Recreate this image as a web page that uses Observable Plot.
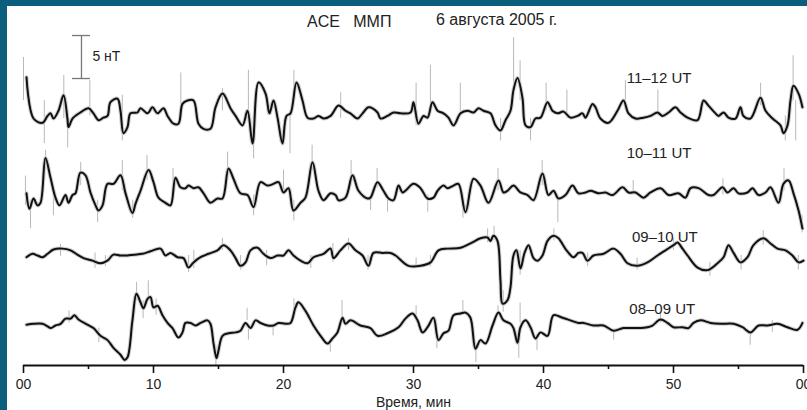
<!DOCTYPE html>
<html>
<head>
<meta charset="utf-8">
<script src="https://cdn.jsdelivr.net/npm/d3@7"></script>
<script src="https://cdn.jsdelivr.net/npm/@observablehq/plot@0.6"></script>
<style>
  html, body { margin: 0; padding: 0; }
  body { width: 807px; height: 410px; background: #0b5f7d; position: relative; overflow: hidden; font-family: "Liberation Sans", Arial, sans-serif; }
  #frame { position: absolute; left: 7px; top: 6px; width: 800px; height: 404px; background: #fff; }
  .ttl { position: absolute; font-size: 16px; line-height: 18px; color: #222; white-space: pre; }
  #chart svg { overflow: visible; }
</style>
</head>
<body>
<div id="frame">
  <div class="ttl" style="left:300px; top:7px;">ACE   ММП</div>
  <div class="ttl" style="left:429px; top:5px;">6 августа 2005 г.</div>
  <div id="chart"></div>
</div>
<script>
// ---- data: [minute, nT deviation] ----
const seriesNames = ["11–12 UT", "10–11 UT", "09–10 UT", "08–09 UT"];
const baselines = [28.72, 20.12, 12.79, 4.65]; // nT stacking offsets

const s1112 = [[0.23,4.8],[0.77,0],[1.46,-0.5],[1.85,0.3],[2.08,0.6],[2.31,0],[2.69,0.9],[3.08,2.7],[3.38,0],[3.46,-1.0],[3.77,0],[4.38,0.7],[5.0,1.2],[5.38,0.6],[5.77,-0.2],[6.15,0.1],[6.46,0.3],[6.69,1.9],[7.23,2.3],[7.46,0.9],[7.69,-1.7],[8.0,-1.0],[8.23,0.6],[8.77,0.7],[9.0,1.2],[9.54,0.6],[9.92,1.3],[10.31,0.6],[10.77,1.2],[11.08,0.3],[11.54,-0.6],[11.92,-0.6],[12.23,1.7],[12.62,2.1],[13.08,2.1],[13.46,-0.6],[13.85,-1.2],[14.38,-1.2],[14.77,1.3],[15.31,2.9],[15.92,1.2],[16.31,0.3],[16.85,-0.8],[17.23,0.9],[17.62,-2.9],[18.08,4.2],[18.62,2.9],[18.92,0.6],[19.23,2.1],[19.54,0.1],[19.92,-2.9],[20.23,0.3],[20.54,0.6],[21.0,4.2],[21.46,2.1],[21.85,0.1],[22.31,0],[22.69,0.3],[23.08,0],[23.62,0.3],[24.23,1.5],[24.77,0.9],[25.15,0.6],[25.69,0],[26.08,0.6],[26.54,1.3],[27.23,0.7],[27.46,0],[28.0,0.3],[28.46,0.7],[29.0,0.6],[29.77,0.7],[30.0,1.9],[30.38,-0.6],[30.77,0.3],[31.08,0.1],[31.46,1.9],[31.85,0.9],[32.31,0.6],[32.69,0.1],[33.08,-0.8],[33.62,0.6],[34.15,0.9],[34.62,0.7],[35.0,1.2],[35.38,0.9],[35.92,0.6],[36.31,-0.8],[36.69,-1.4],[37.08,-0.2],[37.46,0.9],[37.69,3.3],[38.0,4.7],[38.38,2.4],[38.62,-0.8],[39.0,-1.0],[39.38,0],[39.77,0.1],[40.31,1.9],[40.69,0.9],[41.08,0.6],[41.54,0.8],[42.08,0.1],[42.62,0.3],[43.0,0.6],[43.23,0.1],[43.77,1.7],[44.0,1.3],[44.38,0],[45.0,-0.5],[45.69,0.9],[46.15,2.1],[46.54,0.6],[47.08,0],[47.69,0.1],[48.23,0.3],[48.77,0.7],[49.15,0.3],[49.62,0.7],[50.15,1.3],[50.54,0.7],[51.08,0.1],[51.85,-0.2],[52.31,2.1],[52.69,1.5],[53.23,0.6],[53.46,0.3],[53.85,0.7],[54.23,0.1],[54.77,0],[55.15,1.3],[55.38,0.3],[55.92,0],[56.69,2.4],[57.08,0.9],[57.62,0],[58.23,-0.8],[58.46,-1.7],[58.77,-0.8],[59.0,2.1],[59.23,3.8],[59.62,2.9],[59.92,1.3]];

const s1011 = [[0.23,-0.1],[0.46,-1.9],[0.77,-0.7],[1.08,-1.5],[1.31,-1.2],[1.69,4.0],[2.08,1.7],[2.46,-0.6],[2.77,-1.5],[3.23,-0.3],[3.46,-1.2],[3.77,-0.3],[4.0,-0.1],[4.38,2.3],[4.77,2.0],[5.15,0],[5.54,-1.5],[5.77,-2.1],[6.08,-1.5],[6.46,1.0],[6.92,1.0],[7.46,2.0],[7.85,-0.1],[8.38,-2.4],[8.62,-1.3],[9.0,0.2],[9.62,2.6],[10.0,1.2],[10.38,-0.6],[10.92,-1.2],[11.31,-1.5],[11.69,1.7],[12.08,0.6],[12.46,0.5],[12.69,0.8],[13.08,0.5],[13.46,0.6],[13.85,-0.1],[14.38,-1.2],[14.92,-0.7],[15.31,-0.7],[15.77,2.8],[16.15,1.6],[16.69,-0.1],[17.23,-0.3],[17.69,-1.7],[18.23,1.2],[18.77,0.8],[19.23,1.0],[19.62,1.2],[20.0,0],[20.38,0.5],[20.77,-2.1],[21.31,-1.2],[21.69,-0.6],[22.23,3.5],[22.69,0.2],[23.08,-0.9],[23.62,-0.1],[24.0,-0.3],[24.23,-0.9],[24.77,-0.6],[25.31,2.0],[25.77,0.2],[26.46,-0.7],[26.69,-0.6],[27.23,1.2],[27.69,0.2],[28.08,-0.7],[28.46,-0.9],[28.85,0.8],[29.15,0],[29.38,0.2],[30.0,1.0],[30.54,0.5],[31.08,-0.7],[31.54,-0.6],[31.85,0.2],[32.31,0.8],[32.62,0.5],[33.08,0.8],[33.46,1.0],[34.0,-2.3],[34.62,1.6],[35.15,0.8],[35.77,-1.2],[36.54,1.4],[36.92,0],[37.23,0.2],[37.69,0.8],[38.23,0],[38.77,-0.3],[39.23,-0.9],[39.92,2.2],[40.38,-0.3],[40.77,0.2],[41.15,-0.7],[41.69,-0.3],[42.23,0.8],[42.69,-0.1],[43.23,0],[43.62,0.2],[44.23,-0.1],[44.77,0],[45.31,-0.3],[46.08,0.6],[46.54,0],[47.08,0],[47.69,-0.6],[48.23,0],[49.0,0.5],[49.62,-0.3],[50.38,-0.1],[50.92,-0.6],[51.31,0.5],[51.92,0.5],[52.69,-0.3],[53.08,-0.3],[53.77,0.6],[54.15,0],[54.62,0.5],[55.0,-0.1],[55.69,0],[56.08,0.5],[56.54,-0.3],[57.08,0],[57.46,0.6],[58.08,-1.2],[58.46,1.0],[58.85,1.4],[59.23,-0.1],[59.62,-2.1],[59.92,-4.2]];

const s0910 = [[0.23,-0.2],[0.69,0.2],[1.08,0],[1.46,-0.2],[1.85,0.2],[2.31,0.7],[3.0,0.8],[3.62,0.6],[4.15,0.1],[4.62,-0.3],[5.31,-0.6],[5.92,-0.9],[6.46,-0.6],[6.92,0.1],[7.46,0],[8.0,0],[8.46,0.1],[9.15,0.2],[9.77,0.5],[10.54,0.8],[10.92,0],[11.31,0.3],[11.85,-0.2],[12.31,-0.3],[12.69,-1.4],[13.08,-0.8],[13.62,-0.2],[14.23,0.2],[14.92,0.6],[15.38,1.2],[15.92,0.6],[16.31,-0.3],[16.69,-1.2],[17.08,-0.8],[17.46,0.6],[18.0,0.9],[18.46,0.2],[19.0,-0.3],[19.54,0],[20.0,0],[20.38,0.6],[20.77,0],[21.31,-0.6],[21.85,-0.9],[22.31,-0.2],[23.08,0.2],[23.62,0.8],[23.85,-0.3],[24.38,0.6],[25.0,1.4],[25.54,0.6],[26.08,0],[26.54,-1.2],[26.92,0.3],[27.62,0.3],[28.23,0.3],[28.62,0],[29.62,-1.2],[30.54,-1.2],[31.31,-0.8],[31.92,0.6],[32.62,0.8],[33.62,0.9],[34.38,1.4],[35.15,2.0],[35.69,2.1],[35.92,1.7],[36.15,2.3],[36.46,1.7],[36.69,-2.9],[36.85,-5.6],[37.23,-5.2],[37.46,-3.7],[37.69,0],[37.92,0.6],[38.23,-1.5],[38.54,0.3],[38.85,1.2],[39.23,-0.3],[39.54,-0.6],[39.92,0],[40.31,1.7],[40.77,2.3],[41.15,2.0],[41.77,0.6],[42.31,-0.2],[42.69,0.3],[43.0,0.3],[43.38,-0.6],[43.85,0],[44.62,0.2],[45.38,0.8],[45.92,0.2],[46.46,-0.9],[47.23,-1.2],[48.0,-0.8],[48.77,0],[49.38,0.6],[50.0,1.2],[50.31,1.5],[50.69,0.8],[51.08,0],[51.85,-1.4],[52.62,-1.7],[53.38,-0.9],[53.85,-0.2],[54.23,1.2],[54.62,0.3],[55.15,-0.8],[55.69,-0.2],[56.15,1.2],[56.92,2.0],[57.46,1.4],[58.0,0.8],[58.62,0.6],[59.15,0],[59.62,-0.8],[60.0,-0.6]];

const s0809 = [[0.23,0.1],[0.77,0.2],[1.46,0.2],[1.85,-0.1],[2.08,-0.3],[2.46,0],[2.85,0.2],[3.23,0.8],[3.62,0.8],[3.92,1.2],[4.23,0.7],[4.92,0.1],[5.38,-0.3],[5.92,-1.2],[6.46,-1.7],[6.92,-2.6],[7.46,-3.4],[7.77,-4.0],[8.0,-3.7],[8.38,0.6],[8.69,3.7],[9.0,2.7],[9.23,2.0],[9.54,3.1],[9.77,3.3],[10.0,2.1],[10.31,2.3],[10.69,1.2],[11.08,0.3],[11.46,-0.3],[11.92,-1.4],[12.23,-0.8],[12.46,0.3],[12.85,0.3],[13.23,0],[13.62,0.3],[14.15,0.6],[14.38,0.2],[14.62,-2.1],[14.85,-3.8],[15.0,-2.9],[15.31,-1.2],[15.77,-0.9],[16.31,-0.8],[16.69,-0.6],[17.08,0.3],[17.46,-0.3],[17.85,0.6],[18.23,0.3],[18.77,0],[19.23,0],[19.62,0.3],[20.15,0.2],[20.54,0.3],[20.92,2.1],[21.15,2.7],[21.69,1.7],[22.31,0],[22.85,-1.2],[23.38,-2.1],[23.77,-1.5],[24.15,-0.8],[24.54,0.9],[24.77,0.2],[25.15,0.6],[25.92,0],[26.69,-0.3],[27.23,-1.2],[28.0,-0.9],[28.85,-0.2],[29.38,0.8],[29.92,1.4],[30.31,0.6],[30.69,-0.8],[31.08,-0.2],[31.54,0.9],[31.92,-1.7],[32.31,-0.9],[32.69,-0.6],[33.08,1.2],[33.62,1.4],[34.0,1.5],[34.38,0.9],[34.77,-2.7],[35.15,-1.7],[35.54,-2.1],[36.08,0],[36.54,1.5],[36.92,0.6],[37.46,0.2],[37.69,-0.3],[38.0,-2.0],[38.23,-0.2],[38.62,0.6],[39.0,-0.2],[39.38,-1.5],[39.77,-0.8],[40.31,-1.2],[40.77,1.2],[41.46,0.9],[42.08,0.6],[42.69,0.3],[43.08,0.3],[43.85,0],[44.62,0],[45.38,-0.6],[46.15,-0.3],[47.23,-0.3],[48.0,-0.2],[48.38,0],[49.0,0.7],[49.54,0.3],[50.0,-0.2],[50.69,-0.2],[51.15,-0.3],[51.54,0.3],[52.08,0.6],[52.85,0.3],[53.62,0.2],[54.62,0.2],[55.31,-0.2],[55.92,-0.8],[56.54,0],[57.23,0],[58.0,0.2],[58.77,-0.2],[59.54,-0.5],[59.92,0.3]];

// raw-signal spikes: [minute, top nT, bottom nT] relative to each baseline
const k1112 = [[0.0,7.1,2.1],[1.6,2.1,-2.9],[3.1,5.0,0],[3.4,0.9,-3.4],[5.1,4.4,0.3],[7.6,2.7,-2.6],[12.1,5.3,0.9],[15.3,3.5,0.9],[17.3,5.6,0.3],[17.7,-0.2,-4.7],[20.0,-0.2,-3.1],[20.5,0.3,-4.1],[20.8,5.6,2.7],[24.4,3.0,0],[30.2,4.1,-0.8],[31.3,6.2,0.9],[33.6,4.1,0.3],[36.7,0,-2.6],[37.7,9.4,3.3],[38.2,6.7,2.1],[39.0,0,-2.6],[40.2,4.1,0.9],[41.8,3.3,0],[46.3,4.4,0.9],[48.8,3.3,0.3],[56.7,4.1,1.5],[58.6,0.3,-2.6],[59.2,7.3,2.1],[59.4,2.1,-2.6]];
const k1011 = [[0.15,1.9,-1.5],[0.54,-0.9,-4.2],[1.7,4.9,2.6],[2.3,0.8,-2.7],[4.4,3.5,0.8],[5.7,-0.9,-3.5],[7.6,3.7,0.2],[8.4,-0.9,-3.0],[9.5,4.3,1.4],[11.5,2.8,-0.3],[15.7,4.7,1.4],[17.7,-0.3,-2.7],[20.0,2.6,0],[20.8,-0.9,-3.3],[22.2,5.5,2.6],[25.2,3.7,0.8],[26.7,-0.3,-2.1],[27.2,2.8,0.5],[28.0,-0.3,-2.3],[31.1,-0.3,-2.3],[33.8,-0.7,-3.0],[36.5,2.8,0.2],[39.9,3.7,0.8],[41.1,-0.3,-3.5],[46.9,1.4,-0.3],[53.8,1.6,-0.3],[58.5,2.8,0.2],[59.9,-2.7,-4.7]];
const k0910 = [[2.85,1.3,-0.1],[5.5,0.3,-1.5],[6.3,0,-1.3],[12.7,0,-2.0],[13.1,0.6,-1.5],[15.3,2.0,0.6],[16.7,0,-1.7],[18.7,0.6,-1.2],[22.1,0,-1.5],[23.8,1.4,-0.8],[25.0,2.0,0.6],[26.5,0,-1.7],[30.2,-0.3,-1.5],[31.3,0,-1.3],[35.7,3.1,1.5],[36.2,3.4,1.7],[36.9,-4.1,-6.6],[38.2,0.6,-2.3],[40.8,3.1,1.7],[43.4,0.3,-1.3],[47.2,-0.3,-1.7],[50.0,2.0,0.6],[52.8,-0.8,-2.4],[55.2,0,-1.7],[56.9,2.9,1.2],[59.6,0,-1.7]];
const k0809 = [[3.5,1.7,0.3],[5.8,-0.3,-2.0],[8.7,5.0,2.9],[9.2,2.9,0.8],[9.6,5.2,2.9],[10.2,3.1,1.2],[14.8,-2.3,-4.7],[17.2,2.0,0.6],[17.3,-0.3,-1.7],[19.2,0,-1.2],[20.8,3.1,1.5],[23.6,-1.7,-3.1],[24.5,2.9,0.8],[30.2,2.3,0.8],[31.8,-1.2,-2.7],[33.8,2.9,1.2],[34.8,-2.3,-4.3],[36.5,2.3,1.2],[38.1,-1.7,-3.8],[38.2,2.6,0.3],[39.5,-1.5,-2.9],[45.4,-0.6,-1.7],[49.0,1.5,0.3],[55.9,-0.9,-2.3],[57.6,0.6,-0.8]];

// label positions [minute, nT]
const labelPos = [[46.4, 33.4], [46.4, 24.65], [46.8, 14.9], [46.6, 6.5]];

// axis ticks
const majorTicks = [0, 10, 20, 30, 40, 50, 60];
const majorLabels = ["00", "10", "20", "30", "40", "50", "00"];
const minorTicks = [5, 15, 25, 35, 45, 55];

// scale bar: 5 nT
const scaleBar = {x: 4.46, x1: 3.77, x2: 5.15, y1: 33.37, y2: 38.37, label: "5 нТ", lx: 5.3, ly: 35.9};

// ---- build tables ----
const traces = [s1112, s1011, s0910, s0809];
const spikes = [k1112, k1011, k0910, k0809];
const lineRows = traces.flatMap((arr, i) => arr.map(([t, v]) => ({series: seriesNames[i], t, y: v + baselines[i]})));
const spikeRows = spikes.flatMap((arr, i) => arr.map(([t, a, b]) => ({series: seriesNames[i], t, y1: a + baselines[i], y2: b + baselines[i]})));
const labelRows = seriesNames.map((name, i) => ({name, t: labelPos[i][0], y: labelPos[i][1]}));

const chart = Plot.plot({
  width: 800,
  height: 404,
  marginLeft: 16,
  marginRight: 4,
  marginTop: 0,
  marginBottom: 45,
  style: {fontFamily: "'Liberation Sans', Arial, sans-serif", fontSize: "14px", color: "#222", background: "transparent"},
  x: {domain: [0, 60]},
  y: {domain: [0, 359 / 8.6], axis: null},
  marks: [
    Plot.ruleX(spikeRows, {x: "t", y1: "y1", y2: "y2", stroke: "#b8b8b8", strokeWidth: 1}),
    Plot.line(lineRows, {x: "t", y: "y", z: "series", stroke: "#cfcfcf", strokeWidth: 4, curve: "catmull-rom"}),
    Plot.line(lineRows, {x: "t", y: "y", z: "series", stroke: "#111", strokeWidth: 2, curve: "catmull-rom", strokeLinejoin: "round"}),
    Plot.text(labelRows, {x: "t", y: "y", text: "name", textAnchor: "start", fontSize: 15, fill: "#222"}),
    Plot.ruleX([scaleBar], {x: "x", y1: "y1", y2: "y2", stroke: "#777", strokeWidth: 1.3}),
    Plot.ruleY([scaleBar], {y: "y1", x1: "x1", x2: "x2", stroke: "#777", strokeWidth: 1.3}),
    Plot.ruleY([scaleBar], {y: "y2", x1: "x1", x2: "x2", stroke: "#777", strokeWidth: 1.3}),
    Plot.text([scaleBar], {x: "lx", y: "ly", text: "label", textAnchor: "start", fontSize: 14, fill: "#222"}),
    Plot.ruleY([0], {stroke: "#111", strokeWidth: 2}),
    Plot.axisX({ticks: majorTicks, tickFormat: (d) => majorLabels[majorTicks.indexOf(d)], tickSize: 8, tickPadding: 6, strokeWidth: 1.6, stroke: "#111", fontSize: 14, label: "Время, мин", labelAnchor: "center", labelOffset: 41, labelArrow: "none"}),
    Plot.axisX({ticks: minorTicks, tickSize: 4, strokeWidth: 1.6, stroke: "#111", text: null, label: null})
  ]
});
document.getElementById("chart").appendChild(chart);
</script>
</body>
</html>
